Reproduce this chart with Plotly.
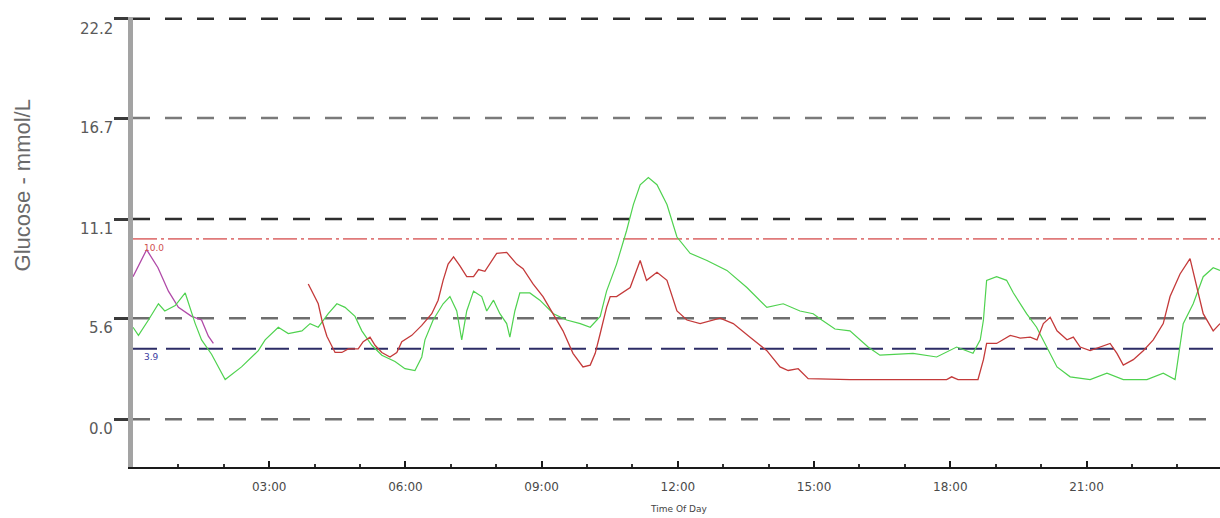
import plotly.graph_objects as go

# ---------------- data (hours of day, glucose mmol/L) ----------------
magenta_hours = [0.00, 0.30, 0.55, 0.78, 1.00, 1.29, 1.51, 1.66, 1.77]
magenta_mmol = [7.9, 9.4, 8.4, 7.1, 6.2, 5.7, 5.5, 4.6, 4.2]

red_hours = [3.86, 4.08, 4.16, 4.27, 4.45, 4.60, 4.74, 4.96, 5.07, 5.22, 5.33, 5.48,
             5.66, 5.81, 5.92, 6.14, 6.36, 6.58, 6.72, 6.83, 6.94, 7.06, 7.20, 7.35,
             7.50, 7.61, 7.75, 8.01, 8.23, 8.45, 8.59, 8.81, 9.03, 9.25, 9.47, 9.69,
             9.91, 10.07, 10.18, 10.29, 10.43, 10.51, 10.65, 10.95, 11.17, 11.31, 11.54,
             11.76, 11.98, 12.20, 12.49, 12.93, 13.22, 13.59, 13.96, 14.25, 14.43, 14.65,
             14.87, 15.79, 17.92, 18.03, 18.17, 18.61, 18.73, 18.80, 19.02, 19.32, 19.54,
             19.76, 19.91, 20.05, 20.20, 20.35, 20.57, 20.71, 20.86, 21.08, 21.30, 21.52,
             21.67, 21.81, 22.03, 22.25, 22.47, 22.69, 22.84, 23.06, 23.28, 23.43, 23.57,
             23.79, 23.94]
red_mmol = [7.5, 6.4, 5.5, 4.6, 3.7, 3.7, 3.9, 3.9, 4.3, 4.55, 4.1, 3.7,
            3.45, 3.7, 4.3, 4.65, 5.2, 5.85, 6.6, 7.7, 8.6, 9.0, 8.5, 7.9,
            7.9, 8.3, 8.2, 9.2, 9.25, 8.6, 8.35, 7.5, 6.8, 5.85, 4.9, 3.65,
            2.9, 3.0, 3.65, 4.75, 6.2, 6.8, 6.8, 7.3, 8.8, 7.7, 8.15,
            7.7, 6.0, 5.5, 5.3, 5.6, 5.3, 4.55, 3.8, 2.9, 2.7, 2.8,
            2.25, 2.2, 2.2, 2.35, 2.2, 2.2, 3.3, 4.2, 4.2, 4.65, 4.5,
            4.55, 4.4, 5.3, 5.65, 4.9, 4.4, 4.55, 4.0, 3.8, 4.0, 4.2,
            3.65, 3.0, 3.3, 3.8, 4.4, 5.3, 6.8, 8.05, 8.9, 7.3, 5.85,
            4.9, 5.3]

green_hours = [0.00, 0.12, 0.34, 0.56, 0.70, 0.93, 1.15, 1.37, 1.51, 1.73, 2.03, 2.39,
               2.76, 2.91, 3.20, 3.42, 3.72, 3.90, 4.08, 4.30, 4.49, 4.67, 4.89, 5.04,
               5.26, 5.48, 5.77, 5.99, 6.21, 6.36, 6.43, 6.61, 6.83, 6.98, 7.13, 7.24,
               7.35, 7.50, 7.68, 7.79, 7.94, 8.08, 8.23, 8.30, 8.41, 8.52, 8.74, 8.96,
               9.26, 9.55, 9.85, 10.07, 10.29, 10.43, 10.65, 10.87, 11.02, 11.17, 11.35,
               11.54, 11.76, 11.98, 12.27, 12.64, 13.08, 13.52, 13.96, 14.32, 14.69, 14.98,
               15.17, 15.46, 15.79, 16.19, 16.45, 17.18, 17.70, 18.14, 18.50, 18.66, 18.73,
               18.80, 19.02, 19.24, 19.39, 19.68, 19.90, 20.13, 20.35, 20.64, 21.08, 21.45,
               21.81, 22.33, 22.69, 22.95, 23.02, 23.13, 23.35, 23.57, 23.79, 23.94]
green_mmol = [5.1, 4.65, 5.5, 6.4, 6.0, 6.3, 7.0, 5.3, 4.4, 3.6, 2.2, 2.9,
              3.8, 4.4, 5.1, 4.75, 4.9, 5.3, 5.1, 5.85, 6.4, 6.2, 5.7, 4.9,
              4.1, 3.55, 3.2, 2.8, 2.7, 3.45, 4.4, 5.5, 6.4, 6.8, 6.0, 4.4,
              6.0, 7.1, 6.8, 6.0, 6.6, 5.85, 5.3, 4.55, 6.0, 7.0, 7.0, 6.6,
              5.85, 5.5, 5.3, 5.1, 5.7, 7.1, 8.6, 10.45, 11.9, 13.0, 13.4,
              13.0, 11.9, 10.1, 9.2, 8.8, 8.25, 7.3, 6.2, 6.4, 6.0, 5.85,
              5.5, 5.0, 4.9, 4.0, 3.55, 3.65, 3.45, 4.0, 3.65, 4.4, 5.5,
              7.7, 7.9, 7.7, 7.0, 5.85, 5.1, 4.0, 2.9, 2.35, 2.2, 2.55,
              2.2, 2.2, 2.55, 2.2, 3.5, 5.3, 6.4, 7.9, 8.4, 8.25]

grid_levels = [22.2, 16.7, 11.1, 5.6, 0.0]
grid_labels = ["22.2", "16.7", "11.1", "5.6", "0.0"]
target_high = 10.0
target_low = 3.9
target_high_label = "10.0"
target_low_label = "3.9"
x_tick_hours = [3, 6, 9, 12, 15, 18, 21]
x_tick_labels = ["03:00", "06:00", "09:00", "12:00", "15:00", "18:00", "21:00"]

# ---------------- styles ----------------
grid_colors = {22.2: "#2e2e2e", 16.7: "#7a7a7a", 11.1: "#2e2e2e", 5.6: "#6e6e6e", 0.0: "#6e6e6e"}

fig = go.Figure()
fig.add_trace(go.Scatter(x=magenta_hours, y=magenta_mmol, mode="lines",
                         line=dict(color="#b04aa8", width=1.3), showlegend=False))
fig.add_trace(go.Scatter(x=green_hours, y=green_mmol, mode="lines",
                         line=dict(color="#4fd24f", width=1.2), showlegend=False))
fig.add_trace(go.Scatter(x=red_hours, y=red_mmol, mode="lines",
                         line=dict(color="#c43a3a", width=1.3), showlegend=False))

shapes = []
for lv in grid_levels:
    shapes.append(dict(type="line", xref="paper", x0=0, x1=1, yref="y", y0=lv, y1=lv,
                       line=dict(color=grid_colors[lv], width=2.5, dash="17px,15px"),
                       layer="below"))
shapes.append(dict(type="line", xref="paper", x0=0, x1=1, yref="y", y0=target_high, y1=target_high,
                   line=dict(color="#e07a7a", width=1.6, dash="24px,4px,3px,4px"), layer="below"))
shapes.append(dict(type="line", xref="paper", x0=0, x1=1, yref="y", y0=target_low, y1=target_low,
                   line=dict(color="#2c2c66", width=2, dash="24px,9px"), layer="below"))

annotations = []
for lv, lab in zip(grid_levels, grid_labels):
    annotations.append(dict(text=lab, xref="paper", x=-0.0165, xanchor="right",
                            yref="y", y=lv, yanchor="middle", yshift=-10, showarrow=False,
                            font=dict(family="DejaVu Sans", size=15, color="#5a5a5a")))
annotations.append(dict(text=target_high_label, xref="paper", x=0.008, xanchor="left",
                        yref="y", y=target_high, yanchor="middle", yshift=-9, showarrow=False,
                        font=dict(family="DejaVu Sans", size=9, color="#d05050")))
annotations.append(dict(text=target_low_label, xref="paper", x=0.008, xanchor="left",
                        yref="y", y=target_low, yanchor="middle", yshift=-8, showarrow=False,
                        font=dict(family="DejaVu Sans", size=9, color="#3a3aa0")))
annotations.append(dict(text="Glucose - mmol/L", xref="paper", x=-0.1015, xanchor="center",
                        yref="paper", y=0.625, yanchor="middle", textangle=-90, showarrow=False,
                        font=dict(family="Liberation Sans", size=22, color="#6a6a6a")))
annotations.append(dict(text="Time Of Day", xref="paper", x=0.502, xanchor="center",
                        yref="paper", y=-0.078, yanchor="top", showarrow=False,
                        font=dict(family="DejaVu Sans", size=9, color="#444444")))

fig.update_layout(
    width=1220, height=518,
    margin=dict(l=133, r=0, t=17, b=51),
    paper_bgcolor="white", plot_bgcolor="white",
    shapes=shapes, annotations=annotations,
    showlegend=False,
)
fig.update_xaxes(range=[0, 23.94], tickvals=x_tick_hours, ticktext=x_tick_labels,
                 showgrid=False, zeroline=False, showline=True, linecolor="#1a1a1a", linewidth=2,
                 ticks="inside", ticklen=6, tickwidth=1.5, tickcolor="#1a1a1a",
                 minor=dict(dtick=1, tick0=0, ticks="inside", ticklen=3, tickcolor="#333"),
                 ticklabelstandoff=8,
                 tickfont=dict(family="DejaVu Sans", size=12, color="#4a4a4a"))
fig.update_yaxes(range=[-2.65, 22.3], tickvals=grid_levels, showticklabels=False,
                 showgrid=False, zeroline=False, showline=True, linecolor="#a3a3a3", linewidth=5,
                 ticks="outside", ticklen=14, tickwidth=2.5, tickcolor="#3a3a3a")

fig.write_html("out.html")
